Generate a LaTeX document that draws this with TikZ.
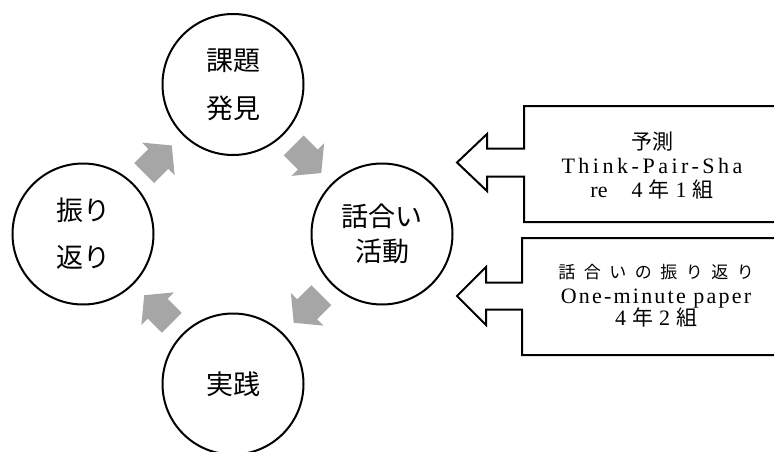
\documentclass[tikz,border=0pt]{standalone}
\usepackage{fontspec}
\newfontfamily\cjk{Noto Sans CJK JP}
\newfontfamily\lat{Liberation Serif}
\usetikzlibrary{calc}
\definecolor{flowgray}{HTML}{A6A6A6}
\tikzset{blockarrow/.pic={\fill[flowgray] (-19.5,-14) -- (0.5,-14) -- (0.5,-23) -- (19.5,0) -- (0.5,23) -- (0.5,14) -- (-19.5,14) -- cycle;}}
\begin{document}
\begin{tikzpicture}[x=1pt,y=-1pt,
  cyc/.style={circle, draw, line width=2pt, minimum size=141pt, inner sep=0pt, align=center},
  callout/.style={draw, line width=2pt, line join=miter},
  note/.style={align=center, inner sep=0pt, font=\lat\fontsize{22}{24}\selectfont}
]
\useasboundingbox (0,0) rectangle (774,452);
\node[cyc, font=\cjk\fontsize{27}{48}\selectfont] (find) at (233,84.5) {課題\\発見};
\node[cyc, font=\cjk\fontsize{27}{47}\selectfont] (refl) at (83,234) {振り\\返り};
\node[cyc, font=\cjk\fontsize{27}{35}\selectfont] (talk) at (382,234) {話合い\\活動};
\node[cyc, font=\cjk\fontsize{27}{32}\selectfont] (prac) at (233,384) {実践};
\coordinate (m1) at ($(refl)!0.5!(find)$);
\coordinate (m2) at ($(find)!0.5!(talk)$);
\coordinate (m3) at ($(talk)!0.5!(prac)$);
\coordinate (m4) at ($(prac)!0.5!(refl)$);
\pic[rotate=45] at (m1) {blockarrow};
\pic[rotate=-45] at (m2) {blockarrow};
\pic[rotate=-135] at (m3) {blockarrow};
\pic[rotate=135] at (m4) {blockarrow};
\draw[callout] (775,106) -- (524,106) -- (524,148.5) -- (487,148.5) -- (487,134) -- (457,162.5) -- (487,191) -- (487,176.5) -- (524,176.5) -- (524,222) -- (775,222);
\draw[callout] (775,238) -- (522,238) -- (522,282.5) -- (486,282.5) -- (486,267) -- (457,296) -- (486,325) -- (486,309.5) -- (522,309.5) -- (522,355) -- (775,355);
\node[note] (note1) at (652,166) {{\cjk\fontsize{21}{24}\selectfont 予測}\\{\addfontfeature{LetterSpace=16}Think-Pair-Sha}\\re\hspace{24pt}4\hspace{6pt}{\cjk\fontsize{21}{24}\selectfont 年}\hspace{6pt}1\hspace{6pt}{\cjk\fontsize{21}{24}\selectfont 組}};
\node[note] (note2) at (656,296) {{\cjk\fontsize{17}{24}\selectfont\addfontfeature{LetterSpace=50}話合いの振り返り}\\[1pt]{\addfontfeature{LetterSpace=10}One-minute paper}\\[-2pt]4\hspace{6pt}{\cjk\fontsize{21}{24}\selectfont 年}\hspace{6pt}2\hspace{6pt}{\cjk\fontsize{21}{24}\selectfont 組}};
\end{tikzpicture}
\end{document}
